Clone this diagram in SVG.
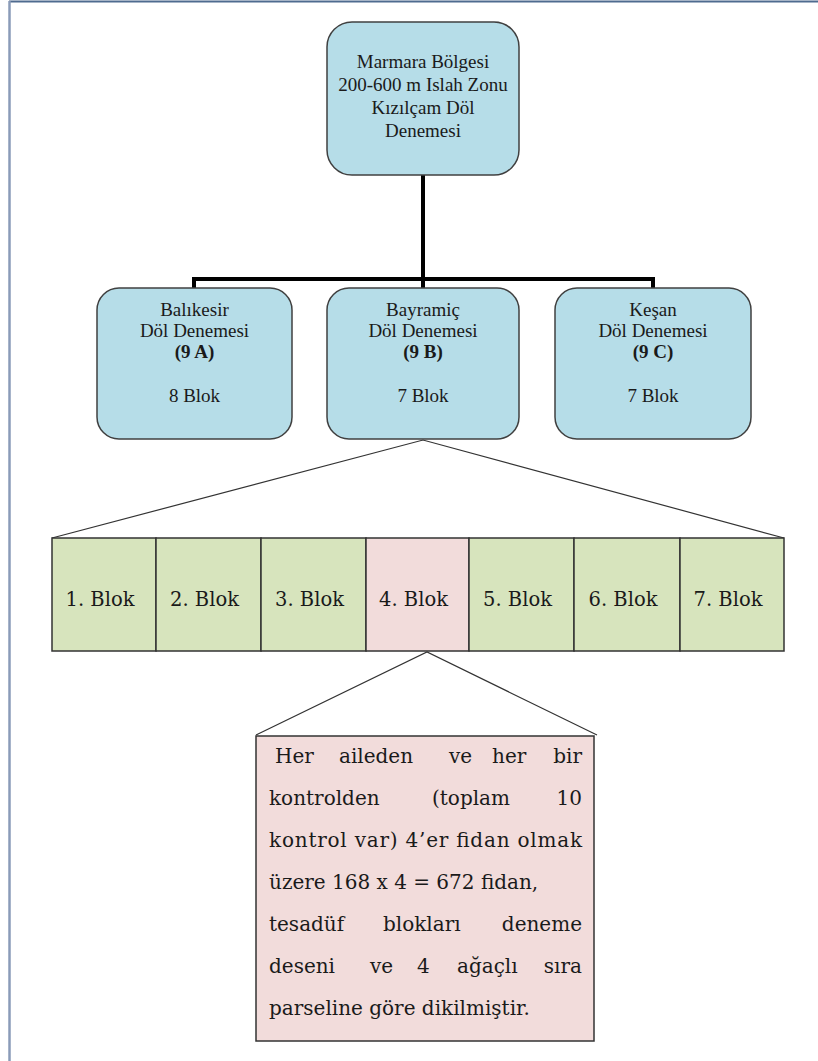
<svg xmlns="http://www.w3.org/2000/svg" width="818" height="1061" viewBox="0 0 818 1061">
<style>
.box{fill:#b6dde8;stroke:#404040;stroke-width:1.5}
.t{font-family:"Liberation Serif","Times New Roman",serif;font-size:19px;fill:#1a1a1a;text-anchor:middle}
.b{font-weight:bold}
.blk{fill:#d7e4bd;stroke:#333;stroke-width:1.5}
.blkp{fill:#f2dcdb;stroke:#333;stroke-width:1.5}
.bt{font-family:"DejaVu Serif",serif;font-size:19.5px;fill:#1a1a1a;text-anchor:middle}
.pt{font-family:"DejaVu Serif",serif;font-size:20px;fill:#1a1a1a}
.e{text-anchor:end}
.conn{stroke:#000;stroke-width:4;fill:none}
.thin{stroke:#333;stroke-width:1.2;fill:none}
</style>
<rect width="818" height="1061" fill="#fff"/>
<line x1="9" y1="1.5" x2="818" y2="1.5" stroke="#4f6b8f" stroke-width="2"/>
<line x1="9.5" y1="1" x2="9.5" y2="1061" stroke="#8a9bb8" stroke-width="2.5"/>

<g id="connectors">
<path class="conn" d="M423 175V279M194 289V279H653V289M423 279V289"/>
<path class="thin" d="M52 538L423 440L784 538"/>
<path class="thin" d="M256 735L427 652L597 735"/>
</g>

<g id="root">
<rect class="box" x="327" y="22" width="192" height="153" rx="25"/>
<text class="t" x="423" y="68">Marmara Bölgesi</text>
<text class="t" x="423" y="91">200-600 m Islah Zonu</text>
<text class="t" x="423" y="114">Kızılçam Döl</text>
<text class="t" x="423" y="137">Denemesi</text>
</g>

<g id="balikesir">
<rect class="box" x="97" y="288" width="195" height="151" rx="22"/>
<text class="t" x="194.5" y="316">Balıkesir</text>
<text class="t" x="194.5" y="337">Döl Denemesi</text>
<text class="t b" x="194.5" y="358">(9 A)</text>
<text class="t" x="194.5" y="402">8 Blok</text>
</g>

<g id="bayramic">
<rect class="box" x="327" y="288" width="192" height="151" rx="22"/>
<text class="t" x="423" y="316">Bayramiç</text>
<text class="t" x="423" y="337">Döl Denemesi</text>
<text class="t b" x="423" y="358">(9 B)</text>
<text class="t" x="423" y="402">7 Blok</text>
</g>

<g id="kesan">
<rect class="box" x="555" y="288" width="196" height="151" rx="22"/>
<text class="t" x="653" y="316">Keşan</text>
<text class="t" x="653" y="337">Döl Denemesi</text>
<text class="t b" x="653" y="358">(9 C)</text>
<text class="t" x="653" y="402">7 Blok</text>
</g>

<g id="blocks">
<g id="blok1"><rect class="blk" x="52" y="538" width="104" height="113"/><text class="bt" x="100" y="606">1. Blok</text></g>
<g id="blok2"><rect class="blk" x="156" y="538" width="105" height="113"/><text class="bt" x="204.5" y="606">2. Blok</text></g>
<g id="blok3"><rect class="blk" x="261" y="538" width="105" height="113"/><text class="bt" x="309.5" y="606">3. Blok</text></g>
<g id="blok4"><rect class="blkp" x="366" y="538" width="103" height="113"/><text class="bt" x="413.5" y="606">4. Blok</text></g>
<g id="blok5"><rect class="blk" x="469" y="538" width="105" height="113"/><text class="bt" x="517.5" y="606">5. Blok</text></g>
<g id="blok6"><rect class="blk" x="574" y="538" width="106" height="113"/><text class="bt" x="623" y="606">6. Blok</text></g>
<g id="blok7"><rect class="blk" x="680" y="538" width="104" height="113"/><text class="bt" x="728" y="606">7. Blok</text></g>
</g>

<g id="detail">
<rect class="blkp" x="256" y="736" width="338" height="305"/>
<text class="pt" x="275" y="763">Her</text>
<text class="pt" x="339" y="763">aileden</text>
<text class="pt" x="449" y="763">ve</text>
<text class="pt" x="492" y="763">her</text>
<text class="pt e" x="582" y="763">bir</text>
<text class="pt" x="269" y="805">kontrolden</text>
<text class="pt" x="432" y="805">(toplam</text>
<text class="pt e" x="582" y="805">10</text>
<text class="pt" x="269" y="847" textLength="313" lengthAdjust="spacing">kontrol var) 4’er fidan olmak</text>
<text class="pt" x="269" y="889">üzere 168 x 4 = 672 fidan,</text>
<text class="pt" x="269" y="931">tesadüf</text>
<text class="pt" x="383" y="931">blokları</text>
<text class="pt e" x="582" y="931">deneme</text>
<text class="pt" x="269" y="973">deseni</text>
<text class="pt" x="370" y="973">ve</text>
<text class="pt" x="417" y="973">4</text>
<text class="pt" x="457" y="973">ağaçlı</text>
<text class="pt e" x="582" y="973">sıra</text>
<text class="pt" x="269" y="1015">parseline göre dikilmiştir.</text>
</g>
</svg>
